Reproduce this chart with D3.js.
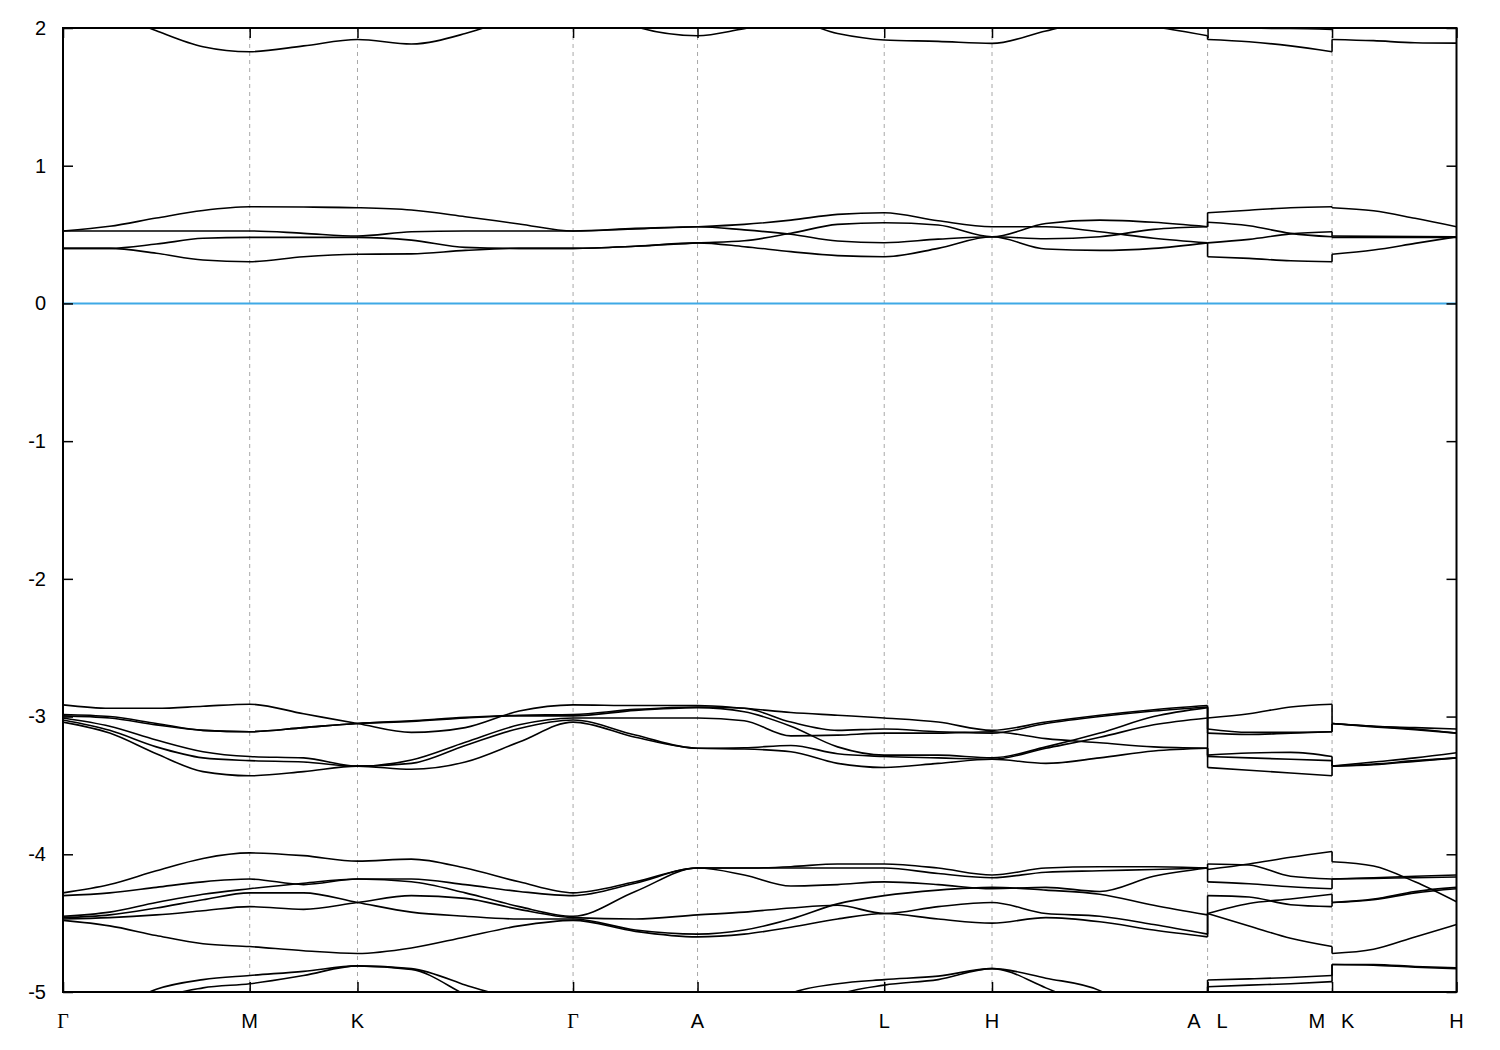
<!DOCTYPE html>
<html><head><meta charset="utf-8">
<script src="https://cdn.jsdelivr.net/npm/d3@7"></script>
<style>body{margin:0;background:#fff}</style>
</head><body>
<svg id="chart" width="1500" height="1050"></svg>
<script>
// ---------- high-symmetry path ----------
const tickK = [0, 1, 1.5774, 2.7321, 3.3988, 4.3988, 4.9761, 6.1308, 6.7975, 7.4641];
const tickLabels = ["Γ", "M", "K", "Γ", "A", "L", "H", "A|L", "M|K", "H"];
const energyTicks = [-5, -4, -3, -2, -1, 0, 1, 2];

// k-nodes of the three continuous pieces: Γ-M-K-Γ-A-L-H-A | L-M | K-H
const kPiece1 = [0, 0.25, 0.5, 0.75, 1, 1.2887, 1.5774, 1.866, 2.1547, 2.4434, 2.7321, 3.0654, 3.3988,
                 3.6488, 3.8988, 4.1488, 4.3988, 4.6874, 4.9761, 5.2648, 5.5535, 5.8421, 6.1308];
const kPiece2 = [6.1308, 6.353, 6.5753, 6.7975];
const kPiece3 = [6.7975, 7.0197, 7.2419, 7.4641];

// ---------- piece 1 : Γ-M-K-Γ-A-L-H-A ----------
const upperP1 = [
  [2.30, 2.12, 1.98, 1.864, 1.828, 1.87, 1.917, 1.884, 1.96, 2.10, 2.30, 2.01, 1.944, 1.995, 2.05, 1.96, 1.913, 1.903, 1.888, 1.978, 2.06, 2.01, 1.944],
  [2.45, 2.4, 2.35, 2.3, 2.3, 2.3, 2.35, 2.35, 2.4, 2.45, 2.45, 2.4, 2.35, 2.35, 2.35, 2.3, 2.3, 2.3, 2.3, 2.3, 2.35, 2.35, 2.35]
];
const conductionP1 = [
  [0.526, 0.56, 0.62, 0.675, 0.702, 0.70, 0.695, 0.678, 0.63, 0.577, 0.526, 0.545, 0.557, 0.574, 0.605, 0.647, 0.659, 0.60, 0.557, 0.557, 0.52, 0.473, 0.44],
  [0.526, 0.526, 0.526, 0.526, 0.526, 0.509, 0.49, 0.52, 0.526, 0.526, 0.526, 0.54, 0.557, 0.534, 0.502, 0.453, 0.441, 0.467, 0.484, 0.47, 0.484, 0.538, 0.557],
  [0.40, 0.40, 0.431, 0.473, 0.48, 0.48, 0.48, 0.46, 0.407, 0.40, 0.40, 0.415, 0.44, 0.455, 0.509, 0.574, 0.586, 0.569, 0.484, 0.58, 0.605, 0.589, 0.557],
  [0.40, 0.40, 0.364, 0.315, 0.303, 0.339, 0.357, 0.36, 0.385, 0.40, 0.40, 0.415, 0.44, 0.412, 0.376, 0.347, 0.339, 0.40, 0.484, 0.395, 0.385, 0.40, 0.44]
];
const valenceP1 = [
  [-2.915, -2.94, -2.94, -2.925, -2.91, -2.98, -3.05, -3.115, -3.08, -2.96, -2.915, -2.92, -2.92, -2.94, -2.97, -2.99, -3.01, -3.04, -3.10, -3.04, -2.99, -2.95, -2.92],
  [-2.985, -3.00, -3.05, -3.10, -3.11, -3.08, -3.05, -3.03, -3.006, -2.99, -2.985, -2.948, -2.93, -2.94, -3.04, -3.10, -3.09, -3.11, -3.12, -3.05, -3.00, -2.96, -2.93],
  [-2.995, -3.01, -3.06, -3.10, -3.11, -3.08, -3.05, -3.035, -3.01, -2.995, -2.995, -2.955, -2.935, -2.965, -3.07, -3.22, -3.28, -3.28, -3.30, -3.22, -3.12, -3.00, -2.935],
  [-3.01, -3.07, -3.17, -3.255, -3.29, -3.30, -3.36, -3.316, -3.187, -3.06, -3.01, -3.01, -3.01, -3.03, -3.14, -3.135, -3.12, -3.12, -3.11, -3.16, -3.19, -3.22, -3.23],
  [-3.025, -3.10, -3.22, -3.30, -3.32, -3.33, -3.36, -3.34, -3.21, -3.086, -3.025, -3.134, -3.23, -3.226, -3.21, -3.27, -3.29, -3.30, -3.31, -3.23, -3.15, -3.06, -3.01],
  [-3.04, -3.12, -3.27, -3.40, -3.43, -3.40, -3.36, -3.383, -3.33, -3.185, -3.04, -3.15, -3.23, -3.235, -3.255, -3.34, -3.37, -3.34, -3.31, -3.34, -3.30, -3.25, -3.23]
];
const deepP1 = [
  [-4.28, -4.22, -4.12, -4.03, -3.99, -4.01, -4.05, -4.035, -4.10, -4.20, -4.28, -4.20, -4.10, -4.10, -4.09, -4.07, -4.07, -4.10, -4.15, -4.10, -4.09, -4.09, -4.10],
  [-4.30, -4.28, -4.24, -4.20, -4.18, -4.22, -4.18, -4.18, -4.22, -4.27, -4.30, -4.21, -4.10, -4.10, -4.10, -4.10, -4.10, -4.14, -4.17, -4.13, -4.12, -4.11, -4.10],
  [-4.45, -4.42, -4.35, -4.29, -4.25, -4.21, -4.18, -4.20, -4.28, -4.38, -4.45, -4.27, -4.10, -4.15, -4.23, -4.22, -4.20, -4.22, -4.25, -4.24, -4.27, -4.16, -4.10],
  [-4.46, -4.44, -4.39, -4.33, -4.28, -4.28, -4.35, -4.42, -4.45, -4.47, -4.47, -4.55, -4.58, -4.55, -4.47, -4.36, -4.30, -4.26, -4.24, -4.26, -4.29, -4.37, -4.44],
  [-4.47, -4.46, -4.44, -4.41, -4.38, -4.40, -4.35, -4.30, -4.32, -4.40, -4.46, -4.47, -4.44, -4.42, -4.39, -4.37, -4.43, -4.38, -4.35, -4.43, -4.45, -4.51, -4.58],
  [-4.48, -4.52, -4.59, -4.65, -4.67, -4.70, -4.72, -4.68, -4.60, -4.52, -4.48, -4.56, -4.60, -4.58, -4.53, -4.47, -4.43, -4.47, -4.50, -4.46, -4.49, -4.55, -4.60]
];
const bottomP1 = [
  [-5.35, -5.15, -4.98, -4.91, -4.88, -4.85, -4.81, -4.836, -5.02, -5.22, -5.35, -5.5, -5.6, -5.35, -5.01, -4.94, -4.91, -4.885, -4.83, -4.90, -4.99, -5.25, -5.6],
  [-5.5, -5.3, -5.06, -4.97, -4.94, -4.88, -4.81, -4.83, -4.95, -5.10, -5.5, -5.6, -5.7, -5.5, -5.2, -5.02, -4.95, -4.91, -4.83, -4.97, -5.15, -5.4, -5.7]
];

// ---------- piece 2 : L-M ----------
const upperP2 = [[1.917, 1.90, 1.87, 1.828], [1.998, 1.998, 1.997, 1.99]];
const conductionP2 = [[0.659, 0.677, 0.695, 0.702], [0.589, 0.564, 0.509, 0.484], [0.44, 0.465, 0.505, 0.521], [0.339, 0.327, 0.31, 0.303]];
const valenceP2 = [[-3.01, -2.98, -2.93, -2.91], [-3.09, -3.115, -3.115, -3.11], [-3.12, -3.13, -3.12, -3.11],
                   [-3.28, -3.265, -3.26, -3.29], [-3.29, -3.30, -3.31, -3.32], [-3.37, -3.39, -3.41, -3.43]];
const deepP2 = [[-4.07, -4.078, -4.16, -4.18], [-4.11, -4.07, -4.022, -3.98], [-4.20, -4.214, -4.236, -4.25],
                [-4.30, -4.31, -4.366, -4.38], [-4.43, -4.357, -4.325, -4.29], [-4.43, -4.52, -4.61, -4.67]];
const bottomP2 = [[-4.913, -4.905, -4.895, -4.88], [-4.962, -4.95, -4.94, -4.925]];

// ---------- piece 3 : K-H ----------
const upperP3 = [[1.917, 1.908, 1.893, 1.89], [2.4, 2.35, 2.3, 2.3]];
const conductionP3 = [[0.695, 0.673, 0.618, 0.557], [0.49, 0.487, 0.485, 0.484], [0.48, 0.48, 0.48, 0.48], [0.357, 0.388, 0.436, 0.484]];
const valenceP3 = [[-3.05, -3.07, -3.08, -3.09], [-3.05, -3.07, -3.09, -3.12], [-3.05, -3.075, -3.095, -3.12],
                   [-3.36, -3.33, -3.30, -3.263], [-3.36, -3.345, -3.32, -3.30], [-3.36, -3.35, -3.325, -3.30]];
const deepP3 = [[-4.054, -4.085, -4.20, -4.345], [-4.18, -4.17, -4.16, -4.15], [-4.18, -4.175, -4.17, -4.165],
                [-4.35, -4.325, -4.27, -4.24], [-4.35, -4.33, -4.28, -4.25], [-4.72, -4.69, -4.60, -4.51]];
const bottomP3 = [[-4.80, -4.80, -4.815, -4.825], [-4.80, -4.805, -4.82, -4.83]];

const pieces = [
  {k: kPiece1, bands: [...upperP1, ...conductionP1, ...valenceP1, ...deepP1, ...bottomP1]},
  {k: kPiece2, bands: [...upperP2, ...conductionP2, ...valenceP2, ...deepP2, ...bottomP2]},
  {k: kPiece3, bands: [...upperP3, ...conductionP3, ...valenceP3, ...deepP3, ...bottomP3]}
];

// ---------- drawing ----------
(function draw() {
  const W = 1500, H = 1050;
  const pL = 63, pR = 1456.5, pT = 28, pB = 992;
  const svg = d3.select("#chart");
  svg.append("rect").attr("width", W).attr("height", H).attr("fill", "#fff");

  const x = d3.scaleLinear().domain([0, tickK[tickK.length - 1]]).range([pL, pR]);
  const y = d3.scaleLinear().domain([-5, 2]).range([pB, pT]);

  svg.append("clipPath").attr("id", "plotclip").append("rect")
    .attr("x", pL).attr("y", pT).attr("width", pR - pL).attr("height", pB - pT);

  // vertical dashed lines at interior high-symmetry points
  svg.append("g").selectAll("line").data(tickK.slice(1, -1)).join("line")
    .attr("x1", d => x(d)).attr("x2", d => x(d)).attr("y1", pT).attr("y2", pB)
    .attr("stroke", "#a8a8a8").attr("stroke-width", 1).attr("stroke-dasharray", "4,4");

  // Fermi level
  svg.append("line").attr("x1", pL).attr("x2", pR).attr("y1", y(0)).attr("y2", y(0))
    .attr("stroke", "#3fa9e6").attr("stroke-width", 2);

  const plot = svg.append("g").attr("clip-path", "url(#plotclip)");
  const line = d3.line().x(d => x(d[0])).y(d => y(d[1])).curve(d3.curveMonotoneX);

  pieces.forEach(p => {
    plot.append("g").selectAll("path").data(p.bands).join("path")
      .attr("d", b => line(b.map((v, i) => [p.k[i], v])))
      .attr("fill", "none").attr("stroke", "#000").attr("stroke-width", 1.6);
  });

  // vertical joins at path discontinuities (bands paired by energy order)
  for (let i = 0; i < pieces.length - 1; i++) {
    const ends = pieces[i].bands.map(b => b[b.length - 1]).sort((a, b) => b - a);
    const starts = pieces[i + 1].bands.map(b => b[0]).sort((a, b) => b - a);
    const kj = pieces[i + 1].k[0];
    plot.append("g").selectAll("line").data(ends.map((e, j) => [e, starts[j]])).join("line")
      .attr("x1", x(kj)).attr("x2", x(kj)).attr("y1", d => y(d[0])).attr("y2", d => y(d[1]))
      .attr("stroke", "#000").attr("stroke-width", 1.6);
  }

  // axes (inward ticks, mirrored)
  const font = "'Liberation Sans', Arial, sans-serif";
  const yAxis = svg.append("g").attr("transform", `translate(${pL},0)`)
    .call(d3.axisLeft(y).tickValues(energyTicks).tickSize(-10).tickPadding(17).tickFormat(d => String(d)));
  svg.append("g").attr("transform", `translate(${pR},0)`)
    .call(d3.axisRight(y).tickValues(energyTicks).tickSize(-10).tickFormat(""));
  svg.append("g").attr("transform", `translate(0,${pB})`)
    .call(d3.axisBottom(x).tickValues(tickK).tickSize(-10).tickFormat(""));
  svg.append("g").attr("transform", `translate(0,${pT})`)
    .call(d3.axisTop(x).tickValues(tickK).tickSize(-10).tickFormat(""));
  svg.selectAll(".domain").remove();
  svg.selectAll(".tick line").attr("stroke", "#000").attr("stroke-width", 1.5);
  yAxis.selectAll("text").attr("font-family", font).attr("font-size", 20).attr("fill", "#000");

  // x labels
  const xl = svg.append("g").attr("font-size", 20).attr("fill", "#000");
  const fam = s => s === "Γ" ? "'Liberation Serif', 'Times New Roman', serif" : font;
  tickLabels.forEach((lab, i) => {
    const px = x(tickK[i]);
    const parts = lab.split("|");
    if (parts.length === 1) {
      xl.append("text").attr("x", px).attr("y", 1028).attr("text-anchor", "middle")
        .attr("font-family", fam(lab)).text(lab);
    } else {
      xl.append("text").attr("x", px - 7).attr("y", 1028).attr("text-anchor", "end")
        .attr("font-family", fam(parts[0])).text(parts[0]);
      xl.append("text").attr("x", px + 9).attr("y", 1028).attr("text-anchor", "start")
        .attr("font-family", fam(parts[1])).text(parts[1]);
    }
  });

  // frame
  svg.append("rect").attr("x", pL).attr("y", pT).attr("width", pR - pL).attr("height", pB - pT)
    .attr("fill", "none").attr("stroke", "#000").attr("stroke-width", 2);
})();
</script>
</body></html>
